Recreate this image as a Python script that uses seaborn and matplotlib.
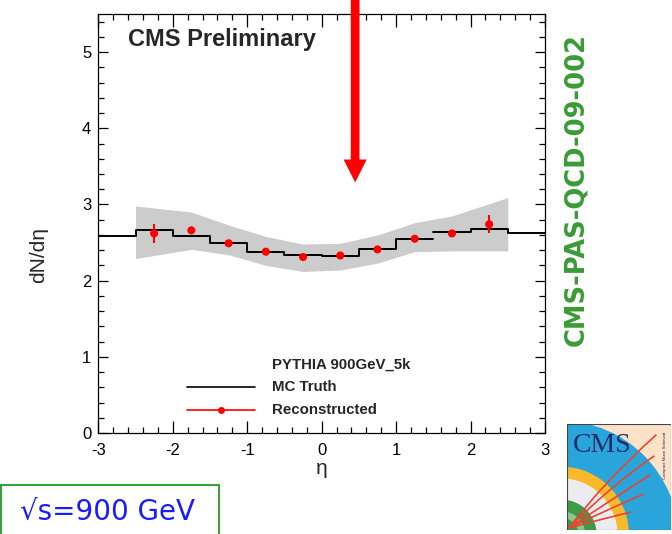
import numpy as np
import pandas as pd
import seaborn as sns
import matplotlib
matplotlib.use("Agg")
import matplotlib.pyplot as plt
from matplotlib.patches import Rectangle, Circle, Wedge, PathPatch
from matplotlib.path import Path
from matplotlib.ticker import MultipleLocator

# ---------------- data ----------------
bin_edges = [-3.0, -2.5, -2.0, -1.5, -1.0, -0.5, 0.0, 0.5, 1.0, 1.5, 2.0, 2.5, 3.0]
mc_truth = [2.59, 2.66, 2.59, 2.49, 2.38, 2.33, 2.32, 2.41, 2.55, 2.64, 2.68, 2.62]

reco_eta = [-2.25, -1.75, -1.25, -0.75, -0.25, 0.25, 0.75, 1.25, 1.75, 2.25]
reco_val = [2.62, 2.66, 2.49, 2.38, 2.31, 2.33, 2.41, 2.55, 2.62, 2.74]
reco_err = [0.12, 0.05, 0.02, 0.01, 0.02, 0.02, 0.01, 0.02, 0.02, 0.12]

band_eta = [-2.5, -1.75, -1.25, -0.75, -0.25, 0.25, 0.75, 1.25, 1.75, 2.5]
band_hi = [2.98, 2.90, 2.73, 2.58, 2.48, 2.49, 2.60, 2.76, 2.85, 3.09]
band_lo = [2.29, 2.41, 2.34, 2.20, 2.12, 2.14, 2.23, 2.38, 2.39, 2.39]

x_ticks = [-3, -2, -1, 0, 1, 2, 3]
y_ticks = [0, 1, 2, 3, 4, 5]

# ---------------- style ----------------
sns.set_theme(style="ticks")
plt.rcParams["font.family"] = ["Liberation Sans", "DejaVu Sans"]
plt.rcParams["axes.unicode_minus"] = False

fig = plt.figure(figsize=(6.72, 5.34), dpi=100)
ax = fig.add_axes([98.3 / 672, 101 / 534, 446.7 / 672, 419 / 534])

# systematic band
ax.fill_between(band_eta, band_lo, band_hi, color="#cccccc", lw=0, zorder=1)

# MC truth histogram (two step segments, gap at 1.5 as in the original)
segA = pd.DataFrame({"eta": bin_edges[:10], "val": mc_truth[:9] + [mc_truth[8]]})
segB = pd.DataFrame({"eta": bin_edges[9:], "val": mc_truth[9:] + [mc_truth[-1]]})
for seg in (segA, segB):
    sns.lineplot(data=seg, x="eta", y="val", drawstyle="steps-post", color="black",
                 lw=1.4, estimator=None, sort=False, ax=ax, zorder=3)

# reconstructed points
ax.errorbar(reco_eta, reco_val, yerr=reco_err, fmt="none", ecolor="red",
            elinewidth=1.5, zorder=4)
sns.scatterplot(x=reco_eta, y=reco_val, color="red", s=34, edgecolor="none",
                ax=ax, zorder=5)

ax.set_xlim(-3, 3)
ax.set_ylim(0, 5.5)
ax.set_xticks(x_ticks)
ax.set_yticks(y_ticks)
ax.set_xticklabels([str(t) for t in x_ticks])
ax.set_yticklabels([str(t) for t in y_ticks])
ax.xaxis.set_minor_locator(MultipleLocator(0.2))
ax.yaxis.set_minor_locator(MultipleLocator(0.2))
ax.tick_params(which="both", direction="in", top=True, right=True, width=0.9,
               colors="black", labelsize=12)
ax.tick_params(axis="x", which="major", length=9, pad=7)
ax.tick_params(axis="x", which="minor", length=4.5)
ax.tick_params(axis="y", which="major", length=7, pad=5)
ax.tick_params(axis="y", which="minor", length=4)
for s in ax.spines.values():
    s.set_linewidth(0.9)
    s.set_color("black")

ax.set_xlabel("η", fontsize=15, labelpad=1)
ax.set_ylabel("dN/dη", fontsize=15)
ax.yaxis.set_label_coords(-0.113, 0.425)

ax.text(0.066, 0.94, "CMS Preliminary", transform=ax.transAxes, fontsize=17,
        fontweight="bold", ha="left", va="center")

# legend (drawn manually)
ax.text(0.388, 0.162, "PYTHIA 900GeV_5k", transform=ax.transAxes, fontsize=10.8,
        fontweight="bold", ha="left", va="center")
ax.plot([0.198, 0.351], [0.1105, 0.1105], transform=ax.transAxes, color="black",
        lw=1.2, clip_on=False)
ax.text(0.388, 0.1105, "MC Truth", transform=ax.transAxes, fontsize=10.8,
        fontweight="bold", ha="left", va="center")
ax.plot([0.198, 0.351], [0.0549, 0.0549], transform=ax.transAxes, color="red",
        lw=1.2, clip_on=False)
ax.plot([0.274], [0.0549], "o", transform=ax.transAxes, color="red", ms=5,
        mec="none", clip_on=False)
ax.text(0.388, 0.0549, "Reconstructed", transform=ax.transAxes, fontsize=10.8,
        fontweight="bold", ha="left", va="center")

# red arrow from the top of the figure
ax.arrow(0.45, 5.75, 0, 3.29 - 5.75, width=0.117, head_width=0.31, head_length=0.30,
         length_includes_head=True, color="red", lw=0, clip_on=False, zorder=6)

# side label
fig.text(576 / 672, 1 - 190 / 534, "CMS-PAS-QCD-09-002", rotation=90, ha="center",
         va="center", color="#3a9b35", fontsize=18.5, fontweight="bold",
         family="DejaVu Sans")

# energy box
fig.add_artist(Rectangle((1 / 672, -0.02), 218 / 672, 49 / 534 + 0.02,
                         transform=fig.transFigure, fill=False,
                         edgecolor="#3aa03a", lw=1.5))
fig.text(107 / 672, 1 - 512 / 534, "√s=900 GeV", color="#1a1aff", fontsize=20,
         ha="center", va="center", family="DejaVu Sans")

# CMS logo (simplified)
lax = fig.add_axes([567 / 672, 4 / 534, 104 / 672, 106 / 534])
lax.set_xlim(0, 1)
lax.set_ylim(0, 1)
lax.set_axis_off()
lax.add_patch(Rectangle((0, 0), 1, 1, color="#fde2c8", zorder=0))
lax.add_patch(Circle((-0.05, -0.1), 1.12, color="#2aa5dc", zorder=1))
lax.add_patch(Wedge((-0.05, -0.05), 0.64, 0, 90, width=0.11, color="#f8b92b", zorder=2))
lax.add_patch(Wedge((-0.05, -0.05), 0.53, 0, 90, width=0.2, color="#ecebf0", zorder=2))
lax.add_patch(Wedge((-0.05, -0.05), 0.33, 0, 90, color="#3d9a45", zorder=2))
lax.add_patch(Wedge((-0.05, -0.05), 0.22, 0, 90, width=0.05, color="#8cc78c", zorder=3))
for ex, ey, cx, cy in [(0.86, 0.90, 0.35, 0.45), (0.84, 0.70, 0.4, 0.4),
                       (0.80, 0.52, 0.45, 0.3), (0.74, 0.34, 0.45, 0.22),
                       (0.62, 0.17, 0.4, 0.12)]:
    p = Path([(0.02, 0.02), (cx, cy), (ex, ey)], [Path.MOVETO, Path.CURVE3, Path.CURVE3])
    lax.add_patch(PathPatch(p, fill=False, edgecolor="#e8442e", lw=1.2, zorder=4))
lax.text(0.06, 0.80, "CMS", color="#1b2f6e", fontsize=20, family="Liberation Serif",
         ha="left", va="center", zorder=5)
lax.text(0.94, 0.70, "Compact Muon Solenoid", color="#1b2f6e", fontsize=3.2,
         rotation=90, ha="center", va="center", zorder=5)
lax.add_patch(Rectangle((0, 0), 1, 1, fill=False, edgecolor="#444444", lw=0.8, zorder=6))

fig.savefig("out.png", dpi=100)
